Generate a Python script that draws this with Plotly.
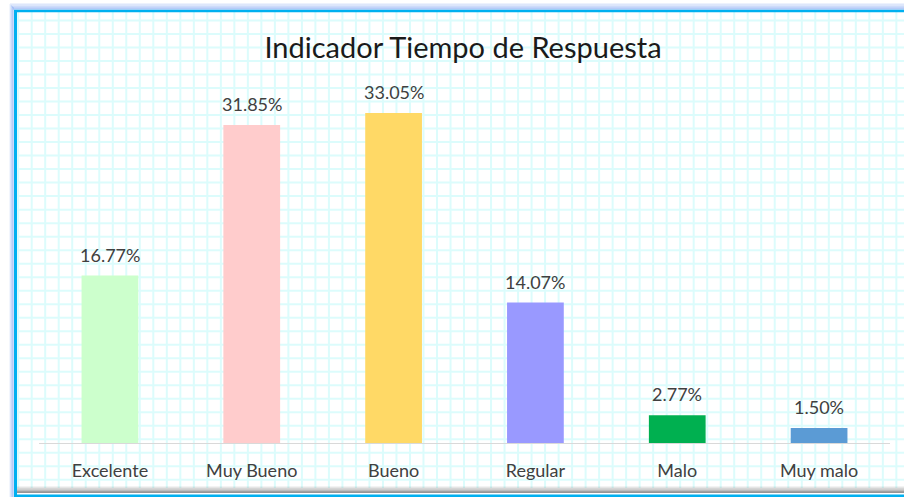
import plotly.graph_objects as go

categories = ["Excelente", "Muy Bueno", "Bueno", "Regular", "Malo", "Muy malo"]
values = [16.77, 31.85, 33.05, 14.07, 2.77, 1.50]
labels = ["16.77%", "31.85%", "33.05%", "14.07%", "2.77%", "1.50%"]
colors = ["#ccffcc", "#ffcccc", "#ffd966", "#9999ff", "#00b050", "#5b9bd5"]
title_text = "Indicador Tiempo de Respuesta"

W, H = 904, 497
FONT = "Lato, 'Noto Sans', sans-serif"

def px(x):
    return x / W

def py(y):
    return 1 - y / H

fig = go.Figure()
fig.add_trace(go.Bar(
    x=categories, y=values, marker=dict(color=colors, line=dict(width=0)),
    width=0.4, hoverinfo="skip",
))

for c, v, t in zip(categories, values, labels):
    fig.add_annotation(x=c, y=v, xref="x", yref="y", text=t, showarrow=False,
                       yanchor="bottom", yshift=8,
                       font=dict(family=FONT, size=18, color="#404040"))

shapes = []
# background grid
step = 13.51
gx = 31.7 - step
while gx < W:
    shapes.append(dict(type="line", xref="paper", yref="paper", x0=px(gx), x1=px(gx),
                       y0=py(12), y1=py(488), line=dict(color="#dcfcfc", width=2), layer="below"))
    gx += step
gy = 34 - step
while gy < 488:
    shapes.append(dict(type="line", xref="paper", yref="paper", x0=px(17), x1=px(W),
                       y0=py(gy), y1=py(gy), line=dict(color="#dcfcfc", width=2), layer="below"))
    gy += step

# outer glow
for i, op in enumerate([0.15, 0.3, 0.45, 0.6]):
    shapes.append(dict(type="line", xref="paper", yref="paper",
                       x0=px(10 + i), x1=px(10 + i), y0=py(4 + i), y1=py(497),
                       line=dict(color="#8fb0f5", width=1.5), opacity=op))
    shapes.append(dict(type="line", xref="paper", yref="paper",
                       x0=px(10 + i), x1=px(W), y0=py(4 + 1.6 * i), y1=py(4 + 1.6 * i),
                       line=dict(color="#8fb0f5", width=2), opacity=op))
# bottom shadow
for i, op in enumerate([0.08, 0.15, 0.25, 0.4, 0.55]):
    shapes.append(dict(type="line", xref="paper", yref="paper",
                       x0=px(17), x1=px(W), y0=py(487 + i * 1.3), y1=py(487 + i * 1.3),
                       line=dict(color="#404040", width=1.5), opacity=op))
# blue border
shapes.append(dict(type="line", xref="paper", yref="paper", x0=px(15.5), x1=px(15.5),
                   y0=py(10), y1=py(497), line=dict(color="#00b0f0", width=3)))
shapes.append(dict(type="line", xref="paper", yref="paper", x0=px(14), x1=px(W),
                   y0=py(11), y1=py(11), line=dict(color="#00b0f0", width=2.5)))
shapes.append(dict(type="line", xref="paper", yref="paper", x0=px(14), x1=px(W),
                   y0=py(495.8), y1=py(495.8), line=dict(color="#00b0f0", width=2.5)))

fig.update_layout(
    width=W, height=H,
    margin=dict(l=0, r=0, t=0, b=0),
    paper_bgcolor="white", plot_bgcolor="rgba(0,0,0,0)",
    showlegend=False,
    title=dict(text=title_text, x=px(463), y=py(48), xanchor="center", yanchor="middle",
               xref="paper", yref="paper",
               font=dict(family=FONT, size=29, color="#1a1a1a")),
    xaxis=dict(domain=[px(39), px(890)], showline=True, linecolor="#d9d9d9", linewidth=1,
               showgrid=False, zeroline=False, ticks="", ticklabelstandoff=11,
               tickfont=dict(family=FONT, size=18, color="#404040"), fixedrange=True),
    yaxis=dict(domain=[py(443), py(93.5)], range=[0, 35], visible=False, fixedrange=True),
    shapes=shapes,
)

fig.write_html("out.html", config={"displayModeBar": False},
               post_script="document.body.style.margin='0';document.body.style.overflow='hidden';")
